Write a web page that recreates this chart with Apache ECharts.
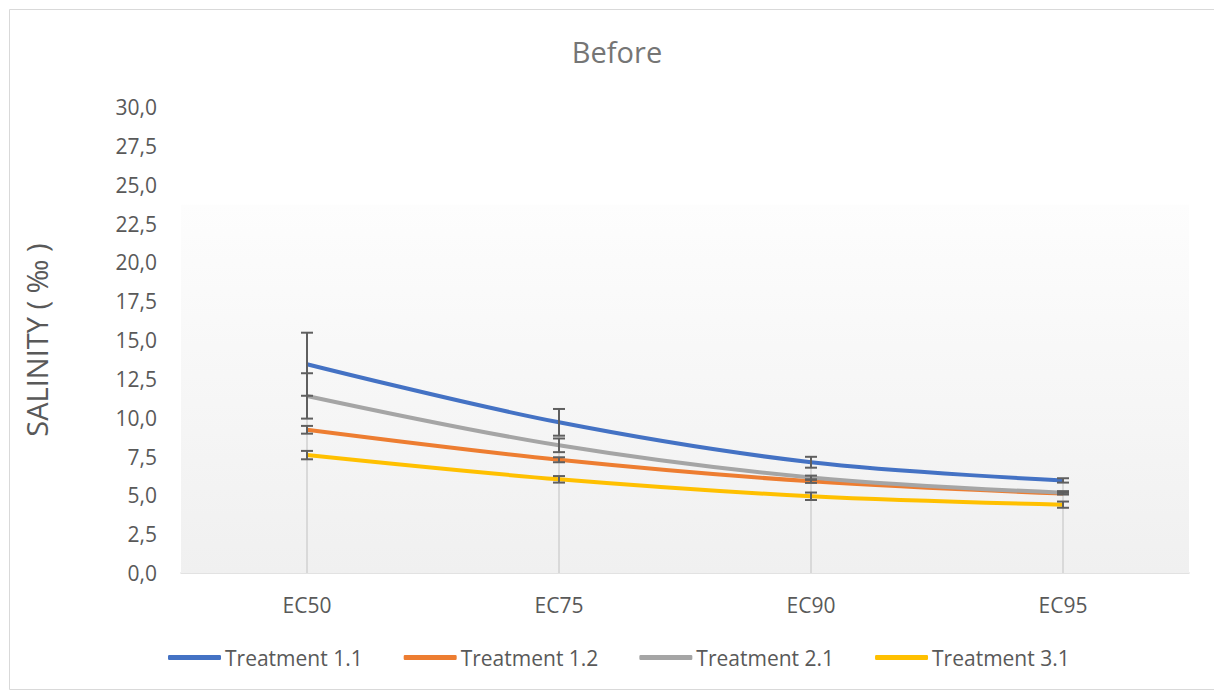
<!DOCTYPE html>
<html>
<head>
<meta charset="utf-8">
<script src="https://cdn.jsdelivr.net/npm/echarts@6/dist/echarts.min.js"></script>
<style>
html,body{margin:0;padding:0;background:#fff;}
#c{width:1214px;height:691px;}
</style>
</head>
<body>
<div id="c"></div>
<script>
const categories = ['EC50', 'EC75', 'EC90', 'EC95'];
const seriesNames = ['Treatment 1.1', 'Treatment 1.2', 'Treatment 2.1', 'Treatment 3.1'];
const t11 = [13.44, 9.7, 7.13, 5.96];
const t12 = [9.22, 7.29, 5.9, 5.12];
const t21 = [11.4, 8.22, 6.15, 5.17];
const t31 = [7.59, 6.03, 4.94, 4.4];
const err11 = [2.03, 0.86, 0.35, 0.14];
const err12 = [0.25, 0.16, 0.1, 0.06];
const err21 = [1.46, 0.44, 0.12, 0.1];
const err31 = [0.27, 0.21, 0.24, 0.2];
const yTicks = [0, 2.5, 5, 7.5, 10, 12.5, 15, 17.5, 20, 22.5, 25, 27.5, 30];
const shadeTop = 23.7;

const colors = ['#4472C4', '#ED7D31', '#A5A5A5', '#FFC000'];
const values = [t11, t12, t21, t31];
const errs = [err11, err12, err21, err31];

const font = '"Open Sans", "Noto Sans", sans-serif';

const dropData = categories.map((c, i) => [i, 0, Math.max(t11[i], t12[i], t21[i], t31[i])]);
const errData = [];
values.forEach((arr, s) => arr.forEach((v, i) => errData.push([i, v - errs[s][i], v + errs[s][i]])));

function vline(params, api, withCaps, style) {
  const x = api.value(0);
  const p1 = api.coord([x, api.value(1)]);
  const p2 = api.coord([x, api.value(2)]);
  const children = [{
    type: 'line',
    shape: { x1: p1[0], y1: p1[1], x2: p2[0], y2: p2[1] },
    style: style
  }];
  if (withCaps) {
    const w = 6;
    children.push({ type: 'line', shape: { x1: p1[0] - w, y1: p1[1], x2: p1[0] + w, y2: p1[1] }, style: style });
    children.push({ type: 'line', shape: { x1: p2[0] - w, y1: p2[1], x2: p2[0] + w, y2: p2[1] }, style: style });
  }
  return { type: 'group', children: children };
}

const lineSeries = values.map((arr, s) => ({
  name: seriesNames[s],
  type: 'line',
  data: arr,
  smooth: 0.35,
  symbol: 'none',
  z: 3,
  lineStyle: { color: colors[s], width: 4 },
  itemStyle: { color: colors[s] }
}));
lineSeries[0].markArea = {
  silent: true,
  itemStyle: {
    color: { type: 'linear', x: 0, y: 0, x2: 0, y2: 1,
      colorStops: [{ offset: 0, color: '#fdfdfd' }, { offset: 1, color: '#f0f0f0' }] }
  },
  data: [[{ yAxis: shadeTop }, { yAxis: 0 }]]
};

const chart = echarts.init(document.getElementById('c'), null, { renderer: 'svg' });
chart.setOption({
  backgroundColor: '#fff',
  animation: false,
  title: {
    text: 'Before',
    left: 612,
    textAlign: 'center',
    top: 32,
    textStyle: { fontFamily: font, fontSize: 29, fontWeight: 'normal', color: '#757575' }
  },
  graphic: [{
    type: 'rect',
    shape: { x: 9.5, y: 9.5, width: 1220, height: 680 },
    style: { fill: 'none', stroke: '#d9d9d9', lineWidth: 1 },
    silent: true
  }],
  legend: {
    data: seriesNames,
    left: 163,
    top: 642,
    icon: 'roundRect',
    itemWidth: 53,
    itemHeight: 5,
    itemGap: 41,
    textStyle: { fontFamily: font, fontSize: 21, color: '#595959', padding: [0, 0, 0, -1] }
  },
  grid: { left: 181, right: 25, top: 107, bottom: 118, containLabel: false },
  xAxis: {
    type: 'category',
    data: categories,
    boundaryGap: true,
    axisLine: { lineStyle: { color: '#d9d9d9', width: 1.5 } },
    axisTick: { show: false },
    axisLabel: { fontFamily: font, fontSize: 21, color: '#595959', margin: 21 },
    splitLine: { show: false }
  },
  yAxis: {
    type: 'value',
    min: yTicks[0],
    max: yTicks[yTicks.length - 1],
    interval: yTicks[1] - yTicks[0],
    name: 'SALINITY ( ‰ )',
    nameLocation: 'middle',
    nameGap: 130,
    nameTextStyle: { fontFamily: font, fontSize: 29, color: '#595959' },
    axisLine: { show: false },
    axisTick: { show: false },
    splitLine: { show: false },
    axisLabel: {
      fontFamily: font, fontSize: 21, color: '#595959', margin: 24,
      formatter: v => v.toFixed(1).replace('.', ',')
    }
  },
  series: [
    {
      type: 'custom',
      silent: true,
      z: 1,
      data: dropData,
      renderItem: (p, api) => vline(p, api, false, { stroke: '#d9d9d9', lineWidth: 2 })
    },
    ...lineSeries,
    {
      type: 'custom',
      silent: true,
      z: 4,
      data: errData,
      renderItem: (p, api) => vline(p, api, true, { stroke: '#5f5f5f', lineWidth: 2 })
    }
  ]
});
</script>
</body>
</html>
